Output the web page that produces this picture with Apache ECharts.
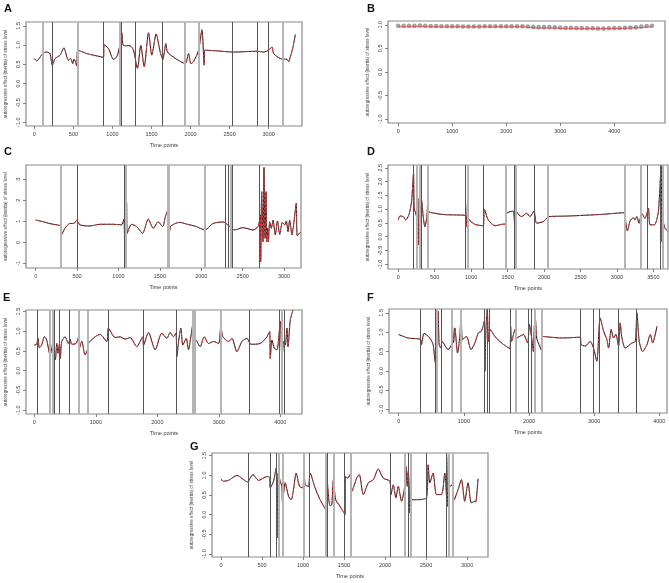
<!DOCTYPE html>
<html><head><meta charset="utf-8">
<script src="https://cdn.jsdelivr.net/npm/echarts@6/dist/echarts.min.js"></script>
<style>html,body{margin:0;padding:0;background:#fff}#c{width:669px;height:583px}</style>
</head><body><div id="c"></div><script>
// ---------- Panel A ----------
const aPts = [[0,0.65],[30,0.59],[107,0.78],[158,0.82],[200,0.78],[230,0.48],[265,0.65],[329,0.74],[380,0.93],[393,0.87],[436,0.61],[466,0.65],[491,0.52],[509,0.64],[543,0.46],[556,0.87],[671,0.78],[842,0.70],[885,0.68],[893,1.01],[949,0.91],[1013,0.63],[1056,0.70],[1090,0.95],[1120,1.32],[1141,0.99],[1226,0.98],[1269,0.87],[1320,0.40],[1363,0.99],[1406,0.44],[1462,1.32],[1504,0.74],[1560,1.29],[1611,0.82],[1645,0.63],[1684,1.04],[1705,0.82],[1825,0.63],[1932,0.52],[1974,0.78],[2004,0.52],[2038,0.57],[2103,0.87],[2145,1.40],[2175,0.48],[2180,0.87],[2338,0.85],[2551,0.82],[2850,0.84],[2936,0.82],[3000,0.87],[3043,0.95],[3064,0.78],[3150,0.65],[3235,0.63],[3256,0.57],[3278,0.70],[3312,0.95],[3342,1.28]];
const aDark = [231,876,1085,1111,1295,1641,2538,2855,3000];
const aLight = [107,551,1098,1927,2103,3184];
const aXTicks = [0,500,1000,1500,2000,2500,3000];
const aYTicks = [-1,-0.5,0,0.5,1,1.5];

// ---------- Panel B ----------
const bX = [0,100,200,300,400,500,600,700,800,900,1000,1100,1200,1300,1400,1500,1600,1700,1800,1900,2000,2100,2200,2300,2400,2500,2600,2700,2800,2900,3000,3100,3200,3300,3400,3500,3600,3700,3800,3900,4000,4100,4200,4300,4400,4500,4600,4700];
const bGrey = [0.98,0.98,0.98,0.98,0.985,0.98,0.975,0.975,0.97,0.97,0.97,0.97,0.965,0.965,0.965,0.965,0.97,0.97,0.97,0.97,0.97,0.97,0.97,0.97,0.965,0.955,0.95,0.95,0.95,0.945,0.94,0.935,0.935,0.93,0.93,0.925,0.925,0.92,0.92,0.925,0.93,0.93,0.935,0.94,0.945,0.96,0.975,0.98];
const bRed = [0.955,0.955,0.96,0.96,0.96,0.96,0.955,0.955,0.955,0.955,0.955,0.955,0.955,0.955,0.955,0.955,0.955,0.955,0.955,0.955,0.955,0.955,0.955,0.955,0.95,0.935,0.93,0.93,0.93,0.93,0.925,0.92,0.92,0.915,0.915,0.915,0.915,0.915,0.915,0.915,0.92,0.92,0.925,0.93,0.935,0.94,0.95,0.955];
const bXTicks = [0,1000,2000,3000,4000];
const bYTicks = [-1,-0.5,0,0.5,1];

// ---------- Panel C ----------
const cPts = [[0,1.06],[92,0.98],[173,0.89],[290,0.81],[302,0.80],[310,0.35],[354,0.67],[414,0.90],[462,0.90],[495,1.05],[535,0.83],[655,0.78],[776,0.86],[937,0.86],[1037,0.83],[1066,1.11],[1074,-0.05],[1086,1.11],[1098,1.90],[1106,0.43],[1158,0.86],[1219,0.75],[1291,0.43],[1360,1.11],[1420,0.67],[1480,0.98],[1532,0.75],[1572,1.30],[1600,1.54],[1612,0.03],[1629,0.75],[1741,0.95],[1821,0.87],[1942,0.75],[2043,0.59],[2143,0.90],[2264,0.97],[2344,0.75],[2404,0.59],[2505,0.70],[2625,0.59],[2686,0.75],[2714,1.30],[2718,-0.92],[2730,2.41],[2746,0.03],[2758,3.56],[2770,0.19],[2783,2.41],[2791,0.03],[2803,0.67],[2811,0.03],[2827,0.98],[2847,0.67],[2867,1.06],[2895,0.35],[2920,1.02],[2948,0.38],[2980,0.95],[3008,0.83],[3028,1.02],[3048,0.51],[3068,1.05],[3096,0.35],[3120,0.98],[3148,1.86],[3160,0.32],[3197,0.48]];
const cDark = [499,1070,1098,2292,2332,2369,2706];
const cLight = [302,1082,1594,1612,2043,2352];
const cXTicks = [0,500,1000,1500,2000,2500,3000];
const cYTicks = [-1,0,1,2,3];

// ---------- Panel D ----------
const dPts = [[0,0.61],[23,0.75],[69,0.73],[101,0.61],[146,0.79],[183,1.27],[210,2.29],[220,1.03],[252,0.73],[274,-0.30],[288,1.39],[302,0.43],[320,1.33],[343,0.73],[366,0.36],[393,0.73],[407,1.33],[421,0.91],[503,0.85],[640,0.80],[778,0.79],[929,0.76],[938,0.36],[951,1.27],[961,0.67],[1052,0.45],[1166,0.40],[1180,1.00],[1235,0.61],[1327,0.40],[1418,0.45],[1473,0.47],[1487,0.85],[1578,0.93],[1601,-0.54],[1610,1.57],[1624,0.91],[1693,0.73],[1761,0.85],[1807,0.73],[1862,0.93],[1898,0.49],[1990,0.55],[2045,0.69],[2059,0.73],[2333,0.75],[2790,0.81],[3101,0.87],[3120,0.55],[3143,0.21],[3179,0.57],[3225,0.69],[3248,0.61],[3271,0.73],[3303,0.49],[3339,0.85],[3385,0.67],[3431,1.03],[3454,0.43],[3513,0.43],[3568,0.91],[3605,2.57],[3618,-0.18],[3632,0.55],[3660,0.30],[3692,0.21]];
const dDark = [210,284,311,924,1171,1597,1866,3417,3596];
const dLight = [261,297,403,947,1478,1615,2049,3101,3330,3623];
const dXTicks = [0,500,1000,1500,2000,2500,3000,3500];
const dYTicks = [-1,-0.5,0,0.5,1,1.5,2,2.5];

// ---------- Panel E ----------
const ePts = [[0,0.65],[38,0.67],[60,0.82],[81,0.58],[119,0.65],[163,0.86],[201,0.78],[255,0.40],[288,0.61],[309,0.82],[326,0.48],[342,0.27],[364,0.69],[385,0.44],[407,0.67],[423,0.31],[445,0.74],[499,0.86],[554,0.69],[581,0.80],[608,0.67],[678,0.69],[722,0.86],[733,0.57],[771,0.74],[825,0.40],[863,0.53],[879,0.69],[988,0.86],[1069,0.92],[1178,0.74],[1205,1.08],[1313,0.84],[1395,0.86],[1476,0.80],[1558,0.84],[1666,0.61],[1764,0.86],[1775,0.65],[1856,0.97],[1964,0.53],[2073,0.95],[2155,0.82],[2209,0.97],[2263,0.86],[2302,0.95],[2318,0.36],[2345,0.74],[2383,1.08],[2415,0.65],[2470,0.82],[2507,0.53],[2545,0.86],[2589,1.29],[2600,0.86],[2643,0.74],[2697,0.61],[2763,0.86],[2833,0.69],[2915,0.74],[2996,0.69],[3034,1.12],[3067,0.86],[3159,0.74],[3213,0.82],[3294,0.48],[3376,0.74],[3457,0.82],[3522,0.67],[3674,0.69],[3783,0.86],[3826,0.99],[3837,0.31],[3864,0.78],[3902,0.57],[3946,0.53],[4000,1.25],[4027,0.23],[4054,0.74],[4081,0.65],[4108,1.08],[4125,0.61],[4163,1.29],[4206,1.54]];
const eDark = [54,326,407,570,1205,1775,2307,3501,3989,4071];
const eLight = [244,293,727,863,2578,2594,2605,3034,4016];
const eXTicks = [0,1000,2000,3000,4000];
const eYTicks = [-1,-0.5,0,0.5,1,1.5];

// ---------- Panel F ----------
const fPts = [[0,0.94],[144,0.85],[338,0.81],[349,0.68],[390,0.97],[477,0.85],[528,0.68],[554,0.29],[569,0.16],[585,0.76],[605,1.54],[621,0.68],[646,0.59],[667,0.76],[759,0.55],[810,0.68],[821,1.28],[841,0.72],[862,1.11],[903,0.46],[938,0.89],[959,1.50],[979,0.81],[1041,0.89],[1108,0.55],[1169,0.72],[1221,0.98],[1272,1.03],[1313,1.28],[1323,-0.01],[1338,1.03],[1359,1.59],[1379,0.76],[1405,1.07],[1477,0.89],[1579,0.72],[1708,0.57],[1718,1.15],[1733,0.76],[1785,1.07],[1810,0.85],[1913,0.94],[1979,0.72],[2005,1.20],[2041,0.85],[2067,0.50],[2082,1.15],[2097,1.37],[2118,0.85],[2154,0.68],[2185,0.55],[2205,0.89],[2503,0.85],[2785,0.87],[2800,0.68],[2862,0.64],[2938,0.76],[2990,0.59],[3041,0.25],[3092,1.37],[3144,1.03],[3195,0.81],[3221,0.59],[3262,1.07],[3297,0.85],[3333,0.95],[3374,0.64],[3400,1.24],[3426,0.85],[3477,0.59],[3579,0.72],[3631,0.76],[3656,1.50],[3692,0.76],[3744,0.50],[3810,0.68],[3862,0.94],[3897,0.72],[3964,1.15]];
const fDark = [338,554,646,1313,1354,1385,1708,1990,2041,2785,2990,3077,3374,3641];
const fLight = [590,810,949,1800,2082,2195];
const fXTicks = [0,1000,2000,3000,4000];
const fYTicks = [-1,-0.5,0,0.5,1,1.5];

// ---------- Panel G ----------
const gPts = [[0,0.91],[28,0.85],[89,0.87],[195,1.00],[276,0.89],[324,0.83],[357,0.93],[389,1.02],[458,0.87],[559,0.97],[592,0.95],[600,0.68],[640,0.85],[673,1.19],[681,0.72],[689,-0.59],[697,1.06],[722,0.85],[742,0.72],[750,0.30],[782,0.81],[823,0.47],[855,0.38],[884,0.64],[916,1.06],[957,0.72],[997,0.68],[1013,1.14],[1026,0.76],[1066,0.72],[1086,1.06],[1147,0.68],[1208,0.38],[1277,0.13],[1289,1.02],[1310,0.47],[1330,0.23],[1350,0.25],[1370,0.89],[1398,0.38],[1451,0.21],[1512,0.00],[1516,0.97],[1545,0.93],[1573,1.02],[1593,0.59],[1654,0.93],[1686,1.02],[1735,0.51],[1796,0.81],[1857,0.89],[1917,1.16],[1978,0.93],[2059,0.85],[2071,0.51],[2100,0.76],[2132,0.43],[2161,0.72],[2201,0.34],[2234,0.64],[2254,1.23],[2270,0.72],[2282,1.10],[2294,0.04],[2311,1.06],[2323,0.38],[2363,0.38],[2505,0.43],[2525,1.27],[2546,0.81],[2586,1.06],[2627,0.51],[2688,0.51],[2728,1.06],[2757,0.21],[2773,1.53],[2789,0.72],[2822,0.76],[2842,0.38],[2890,0.64],[2931,0.89],[2971,0.34],[3012,0.81],[3052,0.30],[3093,0.34],[3105,0.32],[3133,0.91]];
const gDark = [336,600,673,1078,1301,1504,2067,2282,2505,2748];
const gLight = [705,750,1013,1277,1370,1581,2242,2311,2773,2821];
const gXTicks = [0,500,1000,1500,2000,2500,3000];
const gYTicks = [-1,-0.5,0,0.5,1,1.5];

const yName = 'autoregressive effect (inertia) of stress level';
const xName = 'Time points';

const panels = [
  {L:'A', g:{left:26,top:22,width:276,height:104}, xr:[-107,3427], xt:aXTicks, yr:[-1.1,1.6], yt:aYTicks, dec:1, pts:aPts, dark:aDark, light:aLight, lp:[4,3], xn:true},
  {L:'B', g:{left:388,top:21,width:277,height:102}, xr:[-190,4940], xt:bXTicks, yr:[-1.08,1.08], yt:bYTicks, dec:1, dark:[], light:[], lp:[367,3], xn:false},
  {L:'C', g:{left:26,top:165,width:275,height:103}, xr:[-117,3205], xt:cXTicks, yr:[-1.22,3.68], yt:cYTicks, dec:0, pts:cPts, dark:cDark, light:cLight, lp:[4,146], xn:true},
  {L:'D', g:{left:388,top:165,width:280,height:104}, xr:[-140,3700], xt:dXTicks, yr:[-1.17,2.6], yt:dYTicks, dec:1, pts:dPts, dark:dDark, light:dLight, lp:[367,146], xn:true},
  {L:'E', g:{left:26,top:310,width:276,height:104}, xr:[-136,4353], xt:eXTicks, yr:[-1.1,1.54], yt:eYTicks, dec:1, pts:ePts, dark:eDark, light:eLight, lp:[3,292], xn:true},
  {L:'F', g:{left:389,top:309,width:278,height:104}, xr:[-149,4118], xt:fXTicks, yr:[-1.09,1.6], yt:fYTicks, dec:1, pts:fPts, dark:fDark, light:fLight, lp:[367,292], xn:true},
  {L:'G', g:{left:212,top:453,width:276,height:104}, xr:[-110,3255], xt:gXTicks, yr:[-1.08,1.57], yt:gYTicks, dec:1, pts:gPts, dark:gDark, light:gLight, lp:[190,441], xn:true}
];

const grid=[], xAxis=[], yAxis=[], series=[], graphic=[];
const txt = '#3a3a3a';
panels.forEach((p,i)=>{
  grid.push(Object.assign({show:true, borderColor:'#8a8a8a', borderWidth:1.2, backgroundColor:'transparent'}, p.g));
  xAxis.push({type:'value', gridIndex:i, min:p.xr[0], max:p.xr[1], position:'bottom',
    name: p.xn ? xName : '', nameLocation:'middle', nameGap:16,
    nameTextStyle:{fontSize:5.5, color:txt, fontFamily:'Liberation Sans'},
    axisLine:{show:false, onZero:false}, splitLine:{show:false},
    axisTick:{show:true, length:3, customValues:p.xt, lineStyle:{color:'#666', width:0.8}},
    axisLabel:{show:true, customValues:p.xt, fontSize:5.5, color:txt, margin:5, fontFamily:'Liberation Sans', formatter:v=>String(v)}});
  yAxis.push({type:'value', gridIndex:i, min:p.yr[0], max:p.yr[1], position:'left',
    name: yName, nameLocation:'middle', nameGap:18, nameRotate:90,
    nameTextStyle:{fontSize:4.6, color:txt, fontFamily:'Liberation Sans'},
    axisLine:{show:false, onZero:false}, splitLine:{show:false},
    axisTick:{show:true, length:3, customValues:p.yt, lineStyle:{color:'#666', width:0.8}},
    axisLabel:{show:true, customValues:p.yt, rotate:90, fontSize:5.5, color:txt, margin:5, fontFamily:'Liberation Sans', formatter:v=>v.toFixed(p.dec)}});
  const ml = {symbol:['none','none'], silent:true, animation:false, label:{show:false},
    data: p.dark.map(v=>({xAxis:v, lineStyle:{color:'#555', width:1, type:'solid'}}))
      .concat(p.light.map(v=>({xAxis:v, lineStyle:{color:'#b4b4b4', width:2, type:'solid'}})))};
  if (p.L === 'B') {
    const greyPts = bX.map((x,k)=>[x,bGrey[k]]);
    const redPts = bX.map((x,k)=>[x,bRed[k]]);
    series.push({type:'line', xAxisIndex:i, yAxisIndex:i, data:greyPts, symbol:'emptyCircle', symbolSize:2.6, showSymbol:true,
      itemStyle:{color:'#a0a0a0', borderColor:'#9a9a9a', borderWidth:0.7}, lineStyle:{color:'#aaa', width:0.6, type:'dotted'}, animation:false, z:3});
    series.push({type:'line', xAxisIndex:i, yAxisIndex:i, data:redPts, showSymbol:false, smooth:0.3,
      lineStyle:{color:'#e04040', width:0.9}, animation:false, z:4});
  } else {
    series.push({type:'line', xAxisIndex:i, yAxisIndex:i, data:p.pts, showSymbol:false, smooth:0.25,
      lineStyle:{color:'#1a1a1a', width:1}, animation:false, z:3, markLine:ml});
    series.push({type:'line', xAxisIndex:i, yAxisIndex:i, data:p.pts, showSymbol:false, smooth:0.25,
      lineStyle:{color:'#e83a3a', width:1, type:[2,2]}, animation:false, z:4});
  }
  graphic.push({type:'text', left:p.lp[0], top:p.lp[1], style:{text:p.L, font:'bold 11px "Liberation Sans", Arial', fill:'#111'}});
});

const chart = echarts.init(document.getElementById('c'), null, {renderer:'canvas'});
chart.setOption({animation:false, backgroundColor:'#fff', grid, xAxis, yAxis, series, graphic});
</script></body></html>
